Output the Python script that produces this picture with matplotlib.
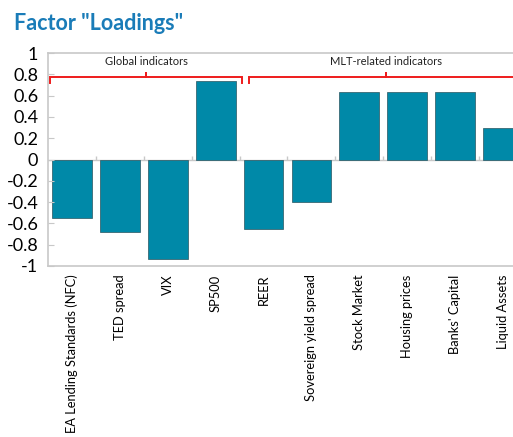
import numpy as np
import matplotlib.pyplot as plt
import matplotlib as mpl

# Einstellungen
mpl.rcParams.update({"font.family": ["Lato", "DejaVu Sans"],
                     "axes.unicode_minus": False})

categories = ["EA Lending Standards (NFC)", "TED spread", "VIX", "SP500", "REER",
              "Sovereign yield spread", "Stock Market", "Housing prices",
              "Banks' Capital", "Liquid Assets"]
loadings = [-0.55, -0.68, -0.93, 0.74, -0.65, -0.40, 0.63, 0.63, 0.63, 0.30]
yticks = [1, 0.8, 0.6, 0.4, 0.2, 0, -0.2, -0.4, -0.6, -0.8, -1]
ytick_labels = ["1", "0.8", "0.6", "0.4", "0.2", "0", "-0.2", "-0.4", "-0.6", "-0.8", "-1"]
groups = ["Global indicators", "MLT-related indicators"]
group_spans = [(-0.46, 3.56), (3.69, 9.44)]

bar_col = '#0089a8'
grid_col = '#c8c8c8'
red = '#ee1c1c'

fig = plt.figure(figsize=(5.13, 4.37), dpi=100)
ax = fig.add_axes([48/513, 1 - 266/437, 479/513, 213/437])

x = np.arange(len(categories))
ax.bar(x, loadings, width=0.83, color=bar_col, edgecolor='#2a5560', linewidth=0.5)

ax.set_xlim(-0.5, len(categories) - 0.5)
ax.set_ylim(-1, 1)
ax.axhline(0, color=grid_col, lw=1, zorder=0)
ax.vlines(np.arange(len(categories)) + 0.5, 0, 0.035, color=grid_col, lw=1)

for s in ax.spines.values():
    s.set_color(grid_col)
    s.set_linewidth(1.2)

ax.set_yticks(yticks)
ax.set_yticklabels(ytick_labels, fontsize=13)
ax.tick_params(axis='y', direction='in', length=4, color=grid_col, pad=7)
ax.set_xticks(x)
ax.set_xticklabels(categories, rotation=90, fontsize=9.3, va='top')
ax.tick_params(axis='x', length=0, pad=6)

# Klammern fuer die Gruppen
for name, (a, b) in zip(groups, group_spans):
    m = (a + b) / 2
    ax.plot([a, a, m, m, m, b, b], [0.72, 0.77, 0.77, 0.82, 0.77, 0.77, 0.72],
            color=red, lw=1.4, clip_on=False, solid_joinstyle='miter')
    ax.text(m, 0.92, name, ha='center', va='center', fontsize=8, color='#222222')

fig.text(14/513, 1 - 24/437, 'Factor "Loadings"', fontsize=15.5, fontweight='bold',
         color='#1a7cb8', va='center', ha='left')

plt.savefig('out.png', dpi=100)
